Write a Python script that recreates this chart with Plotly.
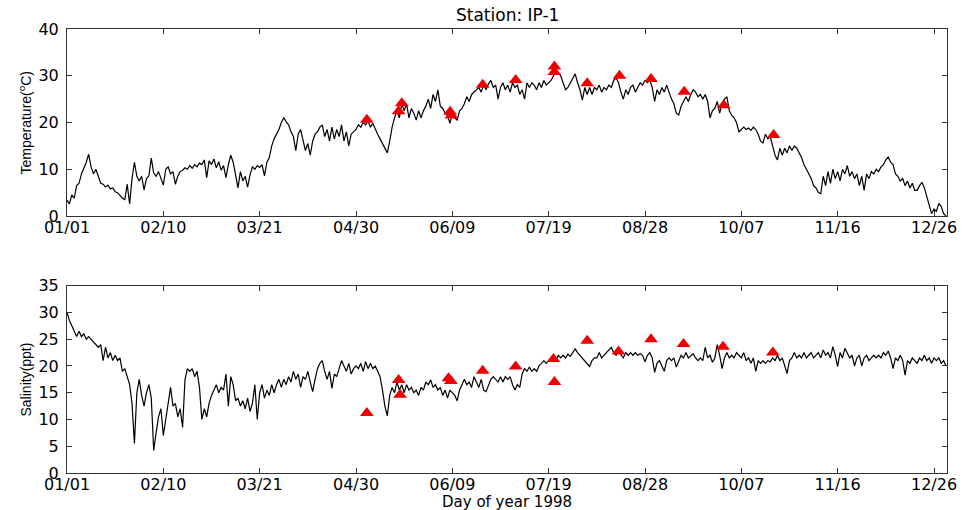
import plotly.graph_objects as go

# ---------------- data ----------------
tick_days = [0, 40, 80, 120, 160, 200, 240, 280, 320, 360]
tick_labels = ["01/01", "02/10", "03/21", "04/30", "06/09", "07/19",
               "08/28", "10/07", "11/16", "12/26"]

# daily temperature (day 0 .. 365)
temperature = [
    3.4, 2.6, 4.5, 3.8, 6.5, 7.0, 9.0, 10.2, 11.5, 13.2,
    10.5, 9.0, 10.0, 8.5, 7.0, 6.8, 6.2, 6.6, 5.8, 6.0,
    5.2, 5.0, 4.4, 3.8, 3.5, 6.8, 2.6, 8.0, 11.5, 8.5,
    7.5, 8.5, 5.6, 8.0, 8.6, 12.4, 9.2, 8.5, 9.5, 8.2,
    6.6, 10.0, 10.5, 9.0, 9.5, 6.8, 8.5, 9.5, 9.8, 10.3,
    10.0, 10.8, 10.2, 11.0, 10.5, 11.3, 11.0, 12.0, 8.2, 11.8,
    11.0, 12.2, 10.3, 11.6, 9.8, 10.8, 8.2, 11.0, 13.0, 11.5,
    9.0, 6.0, 9.5, 7.5, 8.5, 6.2, 8.8, 10.5, 10.0, 10.8,
    10.4, 11.0, 8.6, 11.5, 12.5, 15.0, 16.5, 17.5, 18.5, 20.0,
    21.0, 20.2, 19.5, 18.0, 17.0, 14.0, 17.5, 18.5, 16.0, 14.0,
    15.5, 13.0, 16.0, 17.5, 18.0, 19.0, 19.5, 17.0, 18.5, 16.0,
    19.0, 16.5, 18.5, 17.0, 19.5, 16.0, 18.0, 15.0, 17.5, 18.0,
    18.5, 19.5, 19.0, 20.0, 19.5, 20.3, 19.0, 19.8, 18.5, 17.5,
    16.5, 15.5, 14.5, 13.5, 16.0, 19.0, 21.0, 22.5, 21.0, 24.0,
    22.5, 24.0, 21.0, 23.0, 22.0, 20.5, 22.5, 21.0, 22.5, 23.5,
    25.0, 23.0, 26.0, 24.5, 27.0, 23.5, 23.0, 22.0, 21.5, 19.8,
    22.0, 21.0, 20.5, 22.5, 23.0, 24.0, 25.5, 24.5, 26.0, 26.5,
    27.0, 27.5, 26.5, 28.0, 27.0, 28.3, 29.0, 27.5, 28.0, 25.0,
    27.5, 28.5, 27.0, 28.0, 26.5, 28.5, 27.5, 28.0, 26.0, 27.0,
    25.0, 28.5, 27.5, 28.5, 28.0, 27.0, 28.5, 27.5, 29.0, 28.0,
    28.5, 29.0, 30.0, 31.0, 30.5, 30.0, 28.5, 27.0, 27.5, 28.5,
    29.5, 30.4, 28.5, 27.0, 24.8, 27.5, 26.0, 27.5, 26.0, 27.5,
    27.0, 28.0, 26.5, 27.5, 27.0, 28.0, 27.5, 29.0, 29.5, 28.5,
    26.5, 25.0, 27.0, 26.0, 27.5, 28.0, 26.5, 27.5, 28.5, 28.0,
    29.0, 28.5, 29.0, 27.5, 24.5, 27.0, 26.0, 27.5, 26.5, 28.0,
    26.5, 25.0, 24.0, 22.0, 21.6, 23.5, 24.5, 25.5, 24.5, 26.0,
    27.0, 26.5, 25.5, 26.0, 25.0, 26.0, 24.5, 21.0, 22.5, 23.0,
    24.5, 22.0, 24.0, 25.0, 25.5, 22.5, 21.5, 21.0, 20.0, 18.0,
    18.5, 19.0, 18.5, 18.8, 18.3, 19.0, 18.5, 17.5, 16.0, 15.6,
    17.5, 16.5, 17.0, 15.0, 13.0, 12.0, 14.5, 13.0, 14.5, 13.5,
    15.0, 14.0, 15.0, 14.5, 13.5, 12.5, 11.0, 10.0, 9.0, 8.0,
    6.5, 6.0, 5.0, 4.8, 8.5, 6.5, 9.5, 7.0, 10.0, 8.0,
    9.5, 7.5, 10.0, 9.0, 10.8, 8.5, 9.5, 8.0, 9.0, 6.5,
    8.5, 5.5, 9.0, 8.0, 9.5, 9.0, 10.0, 9.5, 10.5, 11.0,
    12.0, 12.6, 11.5, 11.0, 9.0, 8.5, 7.5, 8.0, 6.5, 7.5,
    6.0, 7.0, 5.5, 5.5, 6.5, 7.2, 6.0, 4.0, 2.5, 0.5,
    1.5, 1.0, 2.7, 2.0, 0.5, 0.0,
]

# daily salinity (day 0 .. 365)
salinity = [
    30.0, 28.5, 27.5, 26.5, 25.5, 26.5, 25.5, 26.0, 25.0, 25.5,
    25.0, 24.5, 24.0, 23.5, 24.0, 21.0, 23.5, 21.5, 22.5, 21.0,
    22.0, 21.0, 21.5, 19.0, 19.5, 18.0, 16.5, 13.0, 5.5, 15.0,
    17.5, 14.5, 12.5, 15.0, 16.5, 14.0, 4.2, 7.5, 10.5, 12.0,
    7.0, 10.0, 13.5, 16.0, 12.5, 13.0, 10.5, 12.0, 8.5, 17.5,
    19.5, 19.0, 19.5, 18.0, 19.0, 16.0, 10.0, 12.0, 10.5, 13.0,
    14.5, 15.5, 16.5, 15.0, 16.0, 15.5, 18.5, 12.5, 18.0, 16.5,
    13.5, 14.0, 12.5, 13.5, 12.0, 14.0, 11.5, 13.0, 16.5, 10.0,
    15.0, 16.5, 14.0, 15.5, 14.5, 16.5, 15.0, 16.5, 17.5, 16.0,
    17.5, 16.5, 18.0, 17.0, 19.0, 17.5, 18.5, 16.0, 18.0, 17.5,
    19.0, 17.0, 15.2, 17.5, 19.5, 20.5, 21.0, 19.0, 17.5, 19.0,
    15.8, 18.5, 18.0, 19.5, 21.0, 20.0, 19.0, 20.5, 18.5, 19.5,
    20.0, 19.5, 20.5, 19.0, 20.8, 19.5, 20.5, 19.5, 20.0, 19.0,
    18.0, 15.5, 12.5, 10.7, 14.5, 16.0, 15.0, 17.0, 15.5, 16.5,
    15.0, 16.5, 15.5, 16.0, 15.0, 15.5, 14.5, 16.0, 15.5, 17.0,
    16.5, 17.4, 16.0, 16.5, 15.5, 16.0, 14.5, 15.5, 14.0, 15.5,
    15.0, 14.5, 13.5, 15.5, 16.5, 17.5, 16.5, 17.0, 16.0, 18.0,
    17.0, 16.0, 17.5, 15.5, 15.2, 16.5, 17.5, 18.0, 17.5, 17.0,
    18.0, 17.0, 18.0, 17.5, 18.0, 16.5, 15.5, 16.5, 16.0, 18.5,
    19.5, 19.0, 19.8, 19.0, 19.5, 19.0, 20.0, 20.5, 21.0, 20.5,
    21.0, 21.2, 21.5, 21.0, 22.0, 21.5, 22.0, 21.5, 22.2, 21.8,
    22.5, 23.2, 22.5, 22.0, 21.5, 21.0, 20.5, 19.9, 21.0, 21.5,
    21.5, 22.5, 21.5, 22.0, 22.5, 23.0, 23.5, 22.5, 22.0, 22.7,
    22.0, 21.5, 22.5, 22.0, 22.5, 22.0, 22.5, 22.0, 22.3, 22.0,
    20.8, 22.0, 22.5, 21.5, 18.8, 20.5, 21.0, 20.0, 19.0, 21.0,
    21.5, 21.0, 21.5, 19.8, 21.0, 22.0, 21.5, 22.5, 21.5, 22.0,
    22.3, 21.5, 21.0, 21.5, 21.0, 23.5, 21.5, 22.0, 20.7, 21.5,
    24.0, 22.0, 19.5, 21.5, 22.5, 21.5, 22.0, 21.5, 22.5, 22.0,
    21.5, 22.5, 21.0, 21.5, 20.5, 21.5, 19.0, 21.0, 20.5, 21.0,
    20.5, 21.0, 20.8, 21.5, 21.0, 22.0, 21.0, 21.5, 20.0, 18.6,
    21.0, 21.5, 22.5, 21.5, 22.0, 21.5, 22.5, 21.5, 22.0, 22.5,
    21.5, 22.0, 22.5, 21.5, 23.0, 22.0, 22.5, 21.5, 23.6, 22.0,
    19.9, 22.5, 21.5, 23.3, 22.5, 21.5, 22.0, 20.0, 21.5, 22.0,
    20.0, 21.5, 22.0, 21.0, 21.5, 22.0, 21.5, 22.0, 21.5, 22.5,
    22.0, 22.8, 21.5, 19.5, 21.5, 21.0, 22.0, 21.0, 18.3, 21.0,
    20.5, 21.5, 21.0, 20.5, 21.5, 21.0, 22.0, 21.0, 21.5, 20.5,
    21.5, 21.0, 21.5, 20.5, 21.0, 20.0,
]
days = list(range(len(temperature)))

# field samples (red triangles)
temp_sample_days = [124.5, 137.7, 139.0, 159.1, 159.6, 172.6, 186.3, 202.4,
                    202.4, 216.0, 229.4, 242.5, 256.3, 272.7, 293.4]
temp_samples = [20.6, 22.4, 24.1, 22.3, 21.5, 28.1, 29.1, 32.0,
                30.8, 28.4, 30.0, 29.3, 26.6, 23.7, 17.3]
sal_sample_days = [124.5, 137.7, 138.3, 158.4, 159.4, 172.6, 186.3, 202.0,
                   202.4, 216.0, 229.0, 242.5, 256.0, 272.4, 293.1]
sal_samples = [11.2, 17.4, 14.6, 17.7, 17.2, 19.1, 19.9, 21.3,
               17.0, 24.7, 22.7, 25.0, 24.1, 23.6, 22.5]

# ---------------- figure ----------------
FONT = "DejaVu Sans, Liberation Sans, Arial, sans-serif"
AX = "#333333"

fig = go.Figure()
fig.add_trace(go.Scatter(x=days, y=temperature, mode="lines",
                         line=dict(color="black", width=1.2),
                         xaxis="x", yaxis="y", showlegend=False))
fig.add_trace(go.Scatter(x=temp_sample_days, y=temp_samples, mode="markers",
                         marker=dict(symbol="triangle-up", size=12, color="#ee0000",
                                     line=dict(width=0)),
                         xaxis="x", yaxis="y", showlegend=False))
fig.add_trace(go.Scatter(x=days, y=salinity, mode="lines",
                         line=dict(color="black", width=1.2),
                         xaxis="x2", yaxis="y2", showlegend=False))
fig.add_trace(go.Scatter(x=sal_sample_days, y=sal_samples, mode="markers",
                         marker=dict(symbol="triangle-up", size=12, color="#ee0000",
                                     line=dict(width=0)),
                         xaxis="x2", yaxis="y2", showlegend=False))

W, H = 964, 510
ml, mr, mt, mb = 67, 17, 29, 37
ph = H - mt - mb

common_x = dict(range=[0, 365.4], tickmode="array", tickvals=tick_days,
                ticktext=tick_labels, ticks="inside", ticklen=5, tickcolor=AX,
                showline=True, linecolor=AX, linewidth=1, mirror="ticks",
                showgrid=False, zeroline=False, automargin=False,
                tickfont=dict(family=FONT, size=16, color="black"),
                ticklabelstandoff=-3)
common_y = dict(ticks="inside", ticklen=5, tickcolor=AX, showline=True,
                linecolor=AX, linewidth=1, mirror="ticks", showgrid=False,
                zeroline=False, automargin=False,
                tickfont=dict(family=FONT, size=16, color="black"),
                ticklabelstandoff=4)

top_dom = [1 - (216 - mt) / ph, 1]
bot_dom = [0, 1 - (285.7 - mt) / ph]

fig.update_layout(
    width=W, height=H,
    margin=dict(l=ml, r=mr, t=mt, b=mb, autoexpand=False),
    paper_bgcolor="white", plot_bgcolor="white",
    xaxis=dict(domain=[0, 1], anchor="y", **common_x),
    yaxis=dict(domain=top_dom, anchor="x", range=[0, 40],
               tickvals=[0, 10, 20, 30, 40], **common_y),
    xaxis2=dict(domain=[0, 1], anchor="y2", **common_x),
    yaxis2=dict(domain=bot_dom, anchor="x2", range=[0, 35],
                tickvals=[0, 5, 10, 15, 20, 25, 30, 35], **common_y),
    annotations=[
        dict(text="Station: IP-1", xref="paper", yref="paper",
             x=0.5, y=1 + (mt - 15) / ph, xanchor="center", yanchor="middle",
             showarrow=False, font=dict(family=FONT, size=17, color="black")),
        dict(text="Temperature(<sup>o</sup>C)", xref="paper", yref="paper",
             x=(25 - ml) / (W - ml - mr), y=1 - (122.5 - mt) / ph,
             textangle=-90, xanchor="center", yanchor="middle", showarrow=False,
             font=dict(family="Liberation Sans, Arial, sans-serif", size=14, color="black")),
        dict(text="Salinity(ppt)", xref="paper", yref="paper",
             x=(25 - ml) / (W - ml - mr), y=1 - (379.5 - mt) / ph,
             textangle=-90, xanchor="center", yanchor="middle", showarrow=False,
             font=dict(family="Liberation Sans, Arial, sans-serif", size=14, color="black")),
        dict(text="Day of year 1998", xref="paper", yref="paper",
             x=0.5, y=-(502.5 - (H - mb)) / ph, xanchor="center", yanchor="middle",
             showarrow=False, font=dict(family=FONT, size=15, color="black")),
    ],
)

fig.write_html("out.html",
               config={"displayModeBar": False},
               post_script="document.body.style.margin='0px';")
